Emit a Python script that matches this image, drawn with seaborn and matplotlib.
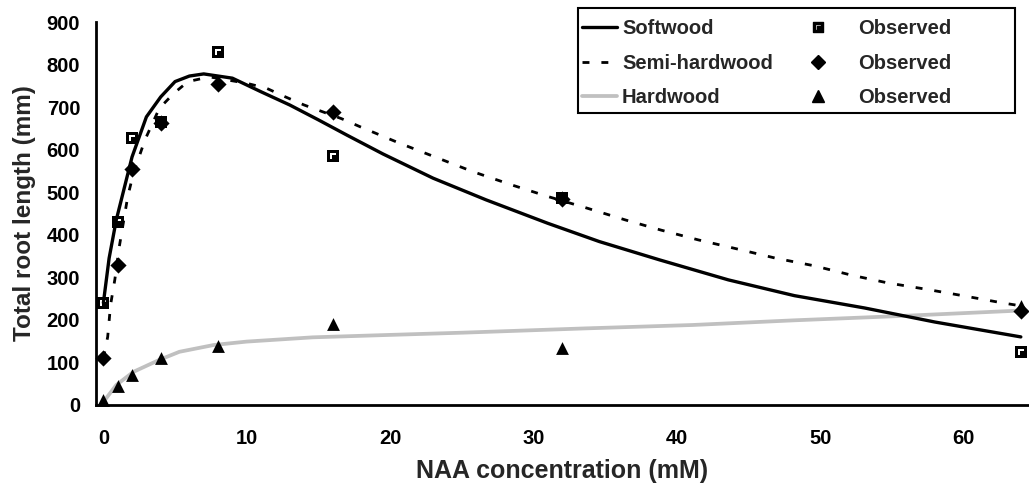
import numpy as np
import pandas as pd
import matplotlib
matplotlib.use("Agg")
import matplotlib.pyplot as plt
import seaborn as sns
from matplotlib.path import Path
from matplotlib.lines import Line2D
from matplotlib.patches import Rectangle

# observed root lengths at each NAA concentration
conc = [0, 1, 2, 4, 8, 16, 32, 64]
soft_obs = [240, 430, 628, 665, 830, 585, 487, 125]
semi_obs = [110, 330, 555, 662, 755, 688, 485, 222]
hard_obs = [12, 45, 70, 110, 138, 190, 135, 232]

# fitted curves
soft_fit_x = [0, 0.4, 0.9, 2, 3, 4, 5, 6, 7, 9, 11, 13, 15, 17, 19.5, 23,
              26.7, 31, 34.6, 38.8, 43.6, 48.2, 53.1, 58, 64]
soft_fit_y = [240, 345, 435, 583, 677, 724, 760, 773, 778, 768, 736, 705,
              670, 634, 590, 533, 482, 427, 384, 341, 294, 257, 228, 195, 160]

semi_fit_x = [0, 0.3, 0.5, 0.8, 1.1, 1.4, 1.7, 2.1, 2.9, 3.9, 4.9, 5.9, 7.4,
              10, 11.4, 12.7, 14, 15.3, 16.6, 17.9, 20.6, 23.2, 25.8, 28.5,
              31, 33.8, 36.4, 38.9, 41.5, 44.3, 46.9, 49.6, 52.2, 54.7, 57.4,
              60.1, 62.7, 64]
semi_fit_y = [110, 160, 235, 295, 370, 430, 490, 545, 623, 697, 732, 760, 771,
              756, 744, 724, 705, 689, 673, 654, 616, 582, 548, 517, 490, 462,
              435, 411, 388, 366, 345, 327, 305, 287, 272, 256, 240, 233]

hard_fit_x = [0, 0.2, 0.9, 2.1, 3.9, 5.3, 7.7, 10, 14.6, 19.3, 25.1, 33.6,
              41.1, 48.2, 55.5, 64]
hard_fit_y = [8, 16, 47, 78, 106, 125, 141, 149, 159, 164, 170, 180, 188,
              199, 209, 222]

series = ["Softwood", "Semi-hardwood", "Hardwood"]

sns.set_style("white")
plt.rcParams["font.family"] = ["Liberation Sans", "DejaVu Sans"]
plt.rcParams["font.weight"] = "bold"

# square marker with a white corner notch, like the Excel one
sq_verts = [(-1, -1), (1, -1), (1, 1), (-1, 1), (-1, -1),
            (-0.5, -0.5), (-0.5, 0.5), (0.5, 0.5), (0.5, 0.15),
            (-0.15, 0.15), (-0.15, -0.5), (-0.5, -0.5)]
sq_codes = [Path.MOVETO] + [Path.LINETO] * 3 + [Path.CLOSEPOLY] + \
           [Path.MOVETO] + [Path.LINETO] * 5 + [Path.CLOSEPOLY]
sq_marker = Path(sq_verts, sq_codes)

fig, ax = plt.subplots(figsize=(10.29, 4.91), dpi=100)
fig.subplots_adjust(left=95.5 / 1029, right=1028 / 1029,
                    bottom=86 / 491, top=469 / 491)

gray = "#c0c0c0"
sns.lineplot(x=hard_fit_x, y=hard_fit_y, color=gray, linewidth=2.7, ax=ax)
sns.lineplot(x=semi_fit_x, y=semi_fit_y, color="black", linewidth=2.0,
             dashes=False, ax=ax)
ax.lines[-1].set_dashes((2.5, 4.3))
sns.lineplot(x=soft_fit_x, y=soft_fit_y, color="black", linewidth=2.4, ax=ax)

sns.scatterplot(x=conc, y=soft_obs, marker=sq_marker, s=64, color="black",
                linewidth=0, ax=ax, clip_on=False, zorder=5)
sns.scatterplot(x=conc, y=semi_obs, marker="D", s=68, color="black",
                linewidth=0, ax=ax, clip_on=False, zorder=5)
sns.scatterplot(x=conc, y=hard_obs, marker="^", s=85, color="black",
                linewidth=0, ax=ax, clip_on=False, zorder=5)

ax.set_xlim(-0.55, 64.5)
ax.set_ylim(0, 900)
ax.set_xticks(range(0, 61, 10))
ax.set_yticks(range(0, 901, 100))
sns.despine(ax=ax)
for sp in ["left", "bottom"]:
    ax.spines[sp].set_linewidth(2)
    ax.spines[sp].set_color("black")
ax.tick_params(axis="both", direction="out", length=5, width=1.6,
               colors="black", labelsize=14.5)
ax.tick_params(axis="x", pad=12)
ax.tick_params(axis="y", pad=6)

ax.set_xlabel("NAA concentration (mM)", fontsize=18, fontweight="bold")
ax.set_ylabel("Total root length (mm)", fontsize=17.5, fontweight="bold")
ax.xaxis.set_label_coords(0.5, -0.14)
ax.yaxis.set_label_coords(-0.064, 0.5)

# legend: box, line samples column, marker column
fig.patches.append(Rectangle((578 / 1029, 1 - 113 / 491), (1015 - 578) / 1029,
                             (113 - 8) / 491, transform=fig.transFigure,
                             facecolor="white", edgecolor="black", lw=1.5,
                             zorder=3))
line_handles = [Line2D([], [], color="black", lw=2.4),
                Line2D([], [], color="black", lw=2.0, dashes=(2.5, 4.3)),
                Line2D([], [], color=gray, lw=2.7)]
mark_handles = [Line2D([], [], ls="", marker=sq_marker, ms=7.5, color="black"),
                Line2D([], [], ls="", marker="D", ms=7, color="black"),
                Line2D([], [], ls="", marker="^", ms=8.5, color="black")]
leg_font = {"size": 14.5, "weight": "bold"}
leg1 = fig.legend(line_handles, series, loc="upper left",
                  bbox_to_anchor=(582 / 1029, 1 - 19 / 491), frameon=False,
                  handlelength=1.75, handletextpad=0.24, labelspacing=0.78,
                  borderpad=0, borderaxespad=0, prop=leg_font)
leg2 = fig.legend(mark_handles, ["Observed"] * 3, loc="upper left",
                  bbox_to_anchor=(808 / 1029, 1 - 19 / 491), frameon=False,
                  handlelength=1.0, handletextpad=1.5, labelspacing=0.78,
                  borderpad=0, borderaxespad=0, prop=leg_font)
leg1.set_zorder(4)
leg2.set_zorder(4)

fig.savefig("out.png", dpi=100)
